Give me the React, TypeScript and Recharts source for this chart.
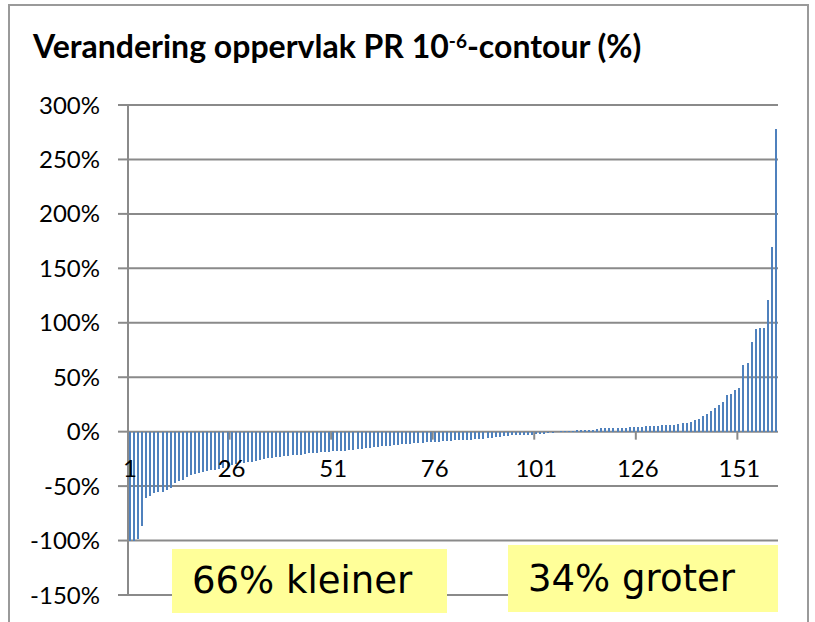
import React from 'react';
import { BarChart, Bar, XAxis, YAxis, CartesianGrid } from 'recharts';

const values: number[] = [
  -100, -100, -99, -87, -61, -59, -56, -55, -55, -54,
  -52, -47, -45, -44, -42, -40, -39, -38, -37, -36.5,
  -35.6, -35, -34, -33, -32, -31, -30, -29, -28.5, -28,
  -27.5, -27, -26, -25, -24.5, -24, -23.5, -23, -22.5, -22,
  -21.8, -21.5, -21, -20.5, -20, -19.7, -19.4, -19, -18.7, -18.4,
  -18.2, -18, -17.7, -17.4, -17, -16.6, -16.2, -15.6, -15, -14.6,
  -14.3, -14, -13.6, -13.3, -12.8, -12.4, -12, -11.6, -11.3, -11,
  -10.7, -10.4, -10.1, -9.8, -9.5, -9.3, -9.1, -8.9, -8.6, -8.3,
  -8.1, -7.9, -7.7, -7.5, -7.3, -7.0, -6.7, -6.4, -6.0, -5.4,
  -5.0, -4.6, -4.3, -3.9, -3.5, -3.3, -3.1, -2.9, -2.8, -2.7,
  -2.5, -2.2, -2.0, -1.6, -1.2, -0.6, 0.2, 0.3, 0.5, 0.8,
  1.5, 1.5, 1.6, 1.8, 1.9, 2.8, 3.2, 3.3, 3.4, 3.5,
  3.5, 3.7, 3.8, 4.3, 4.4, 4.5, 4.6, 4.9, 5.0, 5.2,
  5.3, 5.8, 6.0, 6.0, 6.5, 7.4, 7.6, 7.8, 8.6, 11,
  12, 14.3, 16.5, 18.8, 21.4, 24.2, 26.8, 33.4, 34.4, 38.2,
  40.5, 61, 63, 82.6, 94.4, 95, 95.2, 120.5, 170, 277.6,
];

const categories: number[] = values.map((_, i) => i + 1);
const yTicks: number[] = [-150, -100, -50, 0, 50, 100, 150, 200, 250, 300];
const xTickLabels: string[] = ['1', '26', '51', '76', '101', '126', '151'];
const annotations: string[] = ['66% kleiner', '34% groter'];

const data = categories.map((c, i) => ({ cat: String(c), value: values[i] }));

const Y_MIN = -150;
const Y_MAX = 300;
const W = 815;
const H = 622;
const M = { top: 105, right: 37, bottom: 26, left: 0 };
const Y_AXIS_W = 128;
const X_AXIS_H = 1;
const PLOT_H = H - M.top - M.bottom - X_AXIS_H;
const PLOT_W = W - M.left - M.right - Y_AXIS_W;
const BAND = PLOT_W / categories.length;
const GRID = '#8a8a8a';
const FONT = 'Lato, "Open Sans", sans-serif';

const XTick = (props: any) => {
  const { x, y, payload } = props;
  const zeroY = y - (PLOT_H * (0 - Y_MIN)) / (Y_MAX - Y_MIN);
  const show = xTickLabels.includes(String(payload.value));
  if (!show) return null;
  const tx = x - BAND / 2;
  return (
    <g>
      {payload.value !== '1' && (
        <line x1={tx} x2={tx} y1={zeroY} y2={zeroY + 8} stroke={GRID} strokeWidth={2} />
      )}
      <text x={x} y={zeroY + 45} textAnchor="middle" fontFamily={FONT} fontSize={24} fill="#000">
        {payload.value}
      </text>
    </g>
  );
};

export default function App() {
  return (
    <div style={{ position: 'absolute', left: 0, top: 0, width: W, height: H, background: '#fff', overflow: 'hidden' }}>
      <div
        style={{
          position: 'absolute',
          left: 8,
          top: 4,
          width: 801,
          height: 640,
          border: '2px solid #9a9a9a',
          boxSizing: 'border-box',
        }}
      />
      <div
        style={{
          position: 'absolute',
          left: 33,
          top: 27,
          fontFamily: FONT,
          fontWeight: 700,
          fontSize: 32,
          lineHeight: '38px',
          color: '#000',
          whiteSpace: 'nowrap',
        }}
      >
        Verandering oppervlak PR 10<sup style={{ fontSize: 19, verticalAlign: 'top', position: 'relative', top: -5 }}>-6</sup>-contour (%)
      </div>
      <div style={{ position: 'absolute', left: 0, top: 0 }}>
        <BarChart width={W} height={H} data={data} margin={M} barCategoryGap="45%">
          <CartesianGrid vertical={false} stroke={GRID} strokeWidth={2} />
          <XAxis
            dataKey="cat"
            height={X_AXIS_H}
            interval={0}
            axisLine={false}
            tickLine={false}
            tickSize={0}
            tickMargin={0}
            tick={<XTick />}
          />
          <YAxis
            width={Y_AXIS_W}
            domain={[Y_MIN, Y_MAX]}
            ticks={yTicks}
            interval={0}
            allowDataOverflow
            axisLine={{ stroke: GRID, strokeWidth: 2 }}
            tickLine={{ stroke: GRID, strokeWidth: 2 }}
            tickSize={10}
            tickMargin={18}
            tickFormatter={(v: number) => `${v}%`}
            tick={{ fontFamily: FONT, fontSize: 24, fill: '#000' }}
          />
          <Bar dataKey="value" fill="#4F81BD" barSize={2} shapeRendering="crispEdges" isAnimationActive={false} />
        </BarChart>
      </div>
      <div
        style={{
          position: 'absolute', left: 172, top: 549, width: 275, height: 64, background: '#FFFF99',
          fontFamily: '"DejaVu Sans", sans-serif', fontSize: 37, lineHeight: '64px', paddingLeft: 20, boxSizing: 'border-box', whiteSpace: 'nowrap',
        }}
      >
        {annotations[0]}
      </div>
      <div
        style={{
          position: 'absolute', left: 508, top: 545, width: 270, height: 67, background: '#FFFF99',
          fontFamily: '"DejaVu Sans", sans-serif', fontSize: 37, lineHeight: '67px', paddingLeft: 20, boxSizing: 'border-box', whiteSpace: 'nowrap',
        }}
      >
        {annotations[1]}
      </div>
    </div>
  );
}
